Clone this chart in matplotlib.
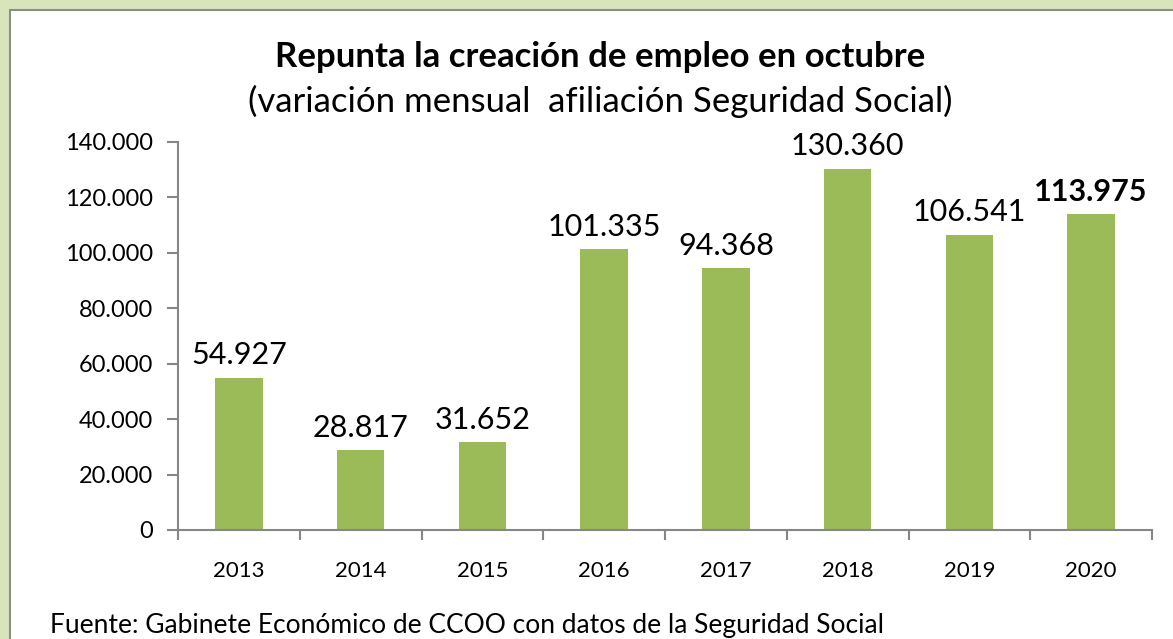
import matplotlib.pyplot as plt
from matplotlib.patches import Rectangle
from matplotlib.ticker import FuncFormatter

# data
years = ["2013", "2014", "2015", "2016", "2017", "2018", "2019", "2020"]
altas = [54927, 28817, 31652, 101335, 94368, 130360, 106541, 113975]
y_ticks = [0, 20000, 40000, 60000, 80000, 100000, 120000, 140000]

bar_color = "#9bbb59"
axis_color = "#868686"


def miles(v, pos=None):
    return f"{int(v):,}".replace(",", ".")


plt.rcParams["font.family"] = ["Lato", "DejaVu Sans"]

fig = plt.figure(figsize=(11.73, 6.39), dpi=100)
fig.patch.set_facecolor("#d7e4bc")

# white panel with grey border
panel = Rectangle((10 / 1173, -0.05), 1.1, 1.05 - 10 / 639,
                  transform=fig.transFigure, facecolor="white",
                  edgecolor="#8c8c8c", linewidth=1.5, zorder=-5)
fig.patches.append(panel)

ax = fig.add_axes([178 / 1173, 109 / 639, (1152 - 178) / 1173, (530 - 142) / 639])
ax.set_zorder(2)
ax.patch.set_alpha(0)

x = range(len(years))
ax.bar(x, altas, width=0.39, color=bar_color, zorder=2)

for i, v in enumerate(altas):
    last = i == len(altas) - 1
    ax.annotate(miles(v), (i, v), xytext=(0, 6), textcoords="offset points",
                ha="center", va="bottom", fontsize=22,
                fontweight="bold" if last else "normal", color="black")

ax.set_xlim(-0.5, len(years) - 0.5)
ax.set_ylim(0, 140000)
ax.set_yticks(y_ticks)
ax.yaxis.set_major_formatter(FuncFormatter(miles))
ax.set_xticks(list(x))
ax.set_xticklabels(years)
ax.set_xticks([i - 0.5 for i in range(len(years) + 1)], minor=True)
ax.tick_params(axis="x", which="major", length=0, pad=22, labelsize=16)
ax.tick_params(axis="x", which="minor", length=7, width=1.5, color=axis_color)
ax.tick_params(axis="y", length=8, width=1.5, color=axis_color, labelsize=17, pad=10)

for s in ["top", "right"]:
    ax.spines[s].set_visible(False)
for s in ["left", "bottom"]:
    ax.spines[s].set_color(axis_color)
    ax.spines[s].set_linewidth(1.5)

fig.text(0.512, 1 - 57 / 639, "Repunta la creación de empleo en octubre",
         ha="center", va="center", fontsize=25, fontweight="bold")
fig.text(0.512, 1 - 101 / 639, "(variación mensual  afiliación Seguridad Social)",
         ha="center", va="center", fontsize=25)
fig.text(50 / 1173, 1 - 625 / 639, "Fuente: Gabinete Económico de CCOO con datos de la Seguridad Social",
         ha="left", va="center", fontsize=19)

fig.savefig("out.png", dpi=100, facecolor=fig.get_facecolor())
